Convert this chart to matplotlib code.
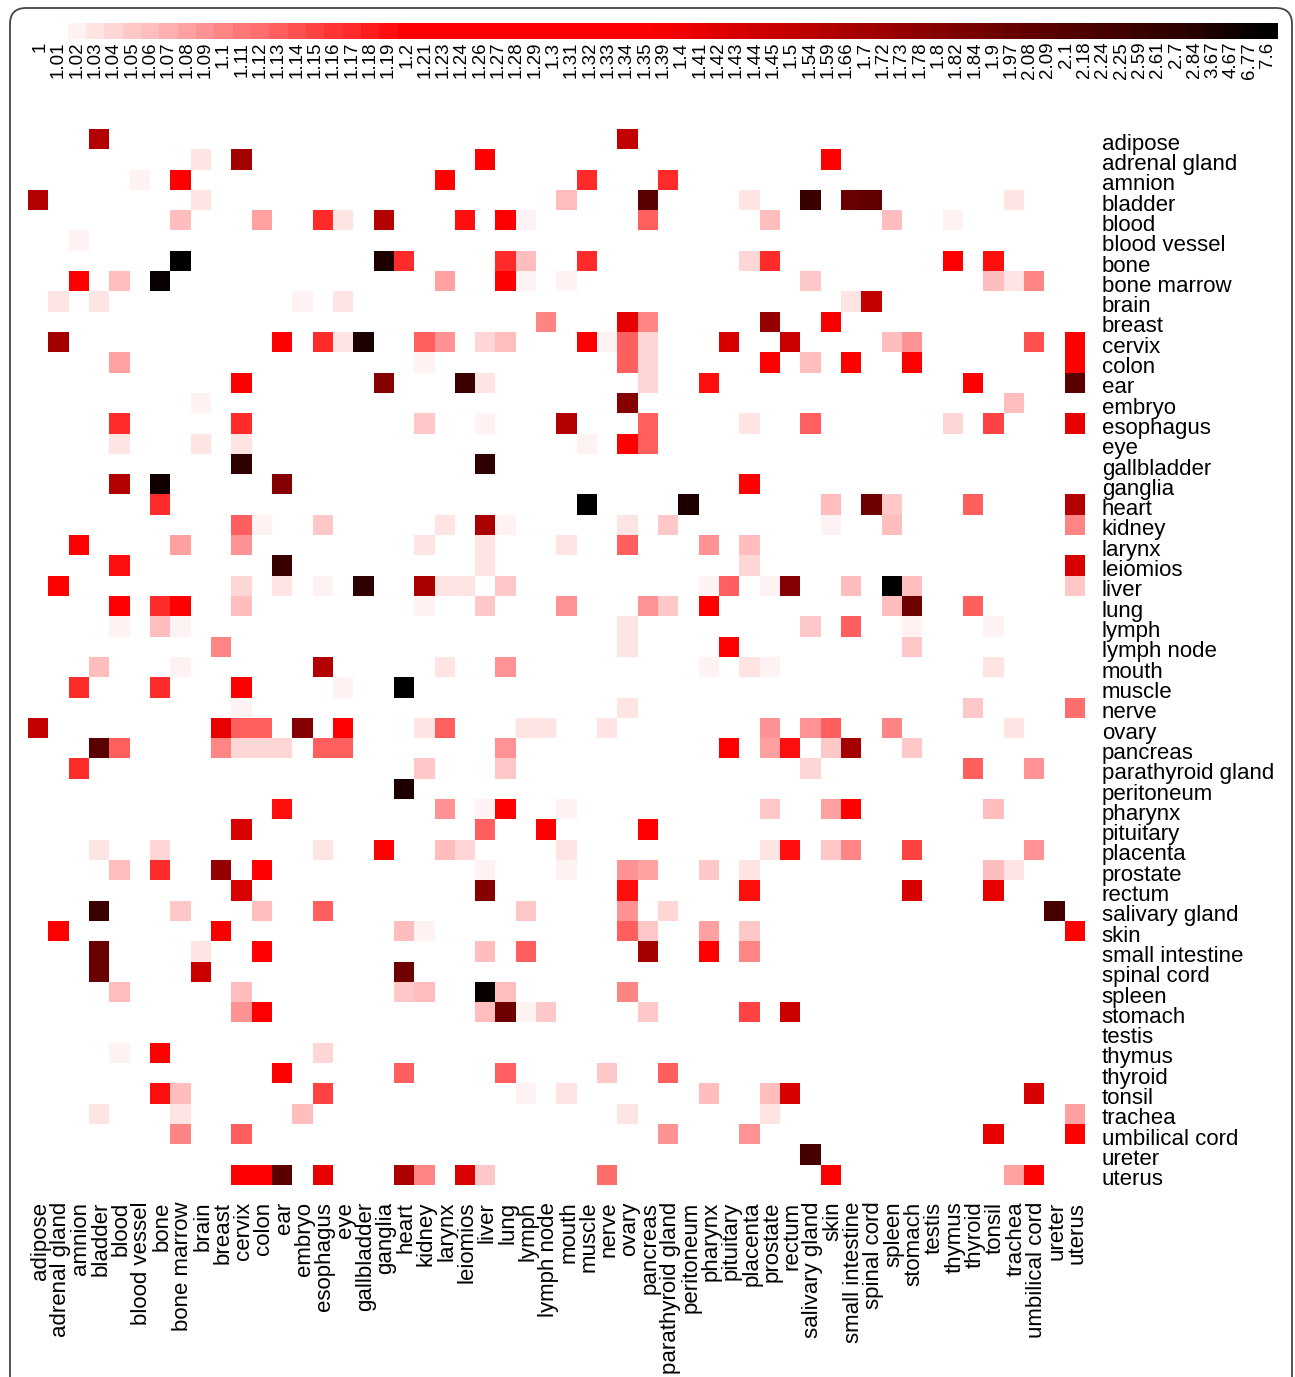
import numpy as np
import matplotlib
matplotlib.use("Agg")
import matplotlib.pyplot as plt
import matplotlib.transforms as mtransforms
from matplotlib.colors import LinearSegmentedColormap, ListedColormap, BoundaryNorm
from matplotlib.patches import FancyBboxPatch

plt.rcParams['font.family'] = ['Liberation Sans', 'DejaVu Sans']

tissues = ["adipose", "adrenal gland", "amnion", "bladder", "blood", "blood vessel",
           "bone", "bone marrow", "brain", "breast", "cervix", "colon", "ear", "embryo",
           "esophagus", "eye", "gallbladder", "ganglia", "heart", "kidney", "larynx",
           "leiomios", "liver", "lung", "lymph", "lymph node", "mouth", "muscle", "nerve",
           "ovary", "pancreas", "parathyroid gland", "peritoneum", "pharynx", "pituitary",
           "placenta", "prostate", "rectum", "salivary gland", "skin", "small intestine",
           "spinal cord", "spleen", "stomach", "testis", "thymus", "thyroid", "tonsil",
           "trachea", "umbilical cord", "ureter", "uterus"]

# the distinct values shown on the colour key
fold_levels = [1, 1.01, 1.02, 1.03, 1.04, 1.05, 1.06, 1.07, 1.08, 1.09, 1.1, 1.11, 1.12,
               1.13, 1.14, 1.15, 1.16, 1.17, 1.18, 1.19, 1.2, 1.21, 1.23, 1.24, 1.26, 1.27,
               1.28, 1.29, 1.3, 1.31, 1.32, 1.33, 1.34, 1.35, 1.39, 1.4, 1.41, 1.42, 1.43,
               1.44, 1.45, 1.5, 1.54, 1.59, 1.66, 1.7, 1.72, 1.73, 1.78, 1.8, 1.82, 1.84,
               1.9, 1.97, 2.08, 2.09, 2.1, 2.18, 2.24, 2.25, 2.59, 2.61, 2.7, 2.84, 3.67,
               4.67, 6.77, 7.6]

# (row tissue, column tissue, value) - only the coloured cells
cells = [
    ("adipose", "bladder", 1.59), ("adipose", "ovary", 1.5),
    ("adrenal gland", "brain", 1.03), ("adrenal gland", "cervix", 1.7), ("adrenal gland", "liver", 1.27),
    ("adrenal gland", "skin", 1.27),
    ("amnion", "blood vessel", 1.02), ("amnion", "bone marrow", 1.24), ("amnion", "larynx", 1.26),
    ("amnion", "muscle", 1.17), ("amnion", "parathyroid gland", 1.17),
    ("bladder", "adipose", 1.59), ("bladder", "brain", 1.03), ("bladder", "mouth", 1.06),
    ("bladder", "pancreas", 2.09), ("bladder", "placenta", 1.03), ("bladder", "salivary gland", 2.59),
    ("bladder", "small intestine", 1.97), ("bladder", "spinal cord", 2.08), ("bladder", "trachea", 1.03),
    ("blood", "bone marrow", 1.06), ("blood", "colon", 1.08), ("blood", "esophagus", 1.17),
    ("blood", "eye", 1.03), ("blood", "ganglia", 1.59), ("blood", "leiomios", 1.19), ("blood", "lung", 1.21),
    ("blood", "lymph", 1.02), ("blood", "pancreas", 1.13), ("blood", "prostate", 1.06),
    ("blood", "spleen", 1.06), ("blood", "thymus", 1.02),
    ("blood vessel", "amnion", 1.02),
    ("bone", "bone marrow", 7.6), ("bone", "ganglia", 3.67), ("bone", "heart", 1.17), ("bone", "lung", 1.17),
    ("bone", "lymph", 1.06), ("bone", "muscle", 1.17), ("bone", "placenta", 1.04), ("bone", "prostate", 1.17),
    ("bone", "thymus", 1.28), ("bone", "tonsil", 1.19),
    ("bone marrow", "amnion", 1.26), ("bone marrow", "blood", 1.06), ("bone marrow", "bone", 6.77),
    ("bone marrow", "larynx", 1.08), ("bone marrow", "lung", 1.23), ("bone marrow", "lymph", 1.02),
    ("bone marrow", "mouth", 1.02), ("bone marrow", "salivary gland", 1.05), ("bone marrow", "tonsil", 1.06),
    ("bone marrow", "trachea", 1.03), ("bone marrow", "umbilical cord", 1.1),
    ("brain", "adrenal gland", 1.03), ("brain", "bladder", 1.03), ("brain", "embryo", 1.02),
    ("brain", "eye", 1.03), ("brain", "small intestine", 1.03), ("brain", "spinal cord", 1.5),
    ("breast", "lymph node", 1.1), ("breast", "ovary", 1.41), ("breast", "pancreas", 1.1),
    ("breast", "prostate", 1.73), ("breast", "skin", 1.39),
    ("cervix", "adrenal gland", 1.7), ("cervix", "ear", 1.29), ("cervix", "esophagus", 1.17),
    ("cervix", "eye", 1.03), ("cervix", "gallbladder", 3.67), ("cervix", "kidney", 1.13),
    ("cervix", "larynx", 1.09), ("cervix", "liver", 1.04), ("cervix", "lung", 1.06), ("cervix", "muscle", 1.3),
    ("cervix", "nerve", 1.02), ("cervix", "ovary", 1.13), ("cervix", "pancreas", 1.04),
    ("cervix", "pituitary", 1.43), ("cervix", "rectum", 1.45), ("cervix", "spleen", 1.06),
    ("cervix", "stomach", 1.09), ("cervix", "umbilical cord", 1.14), ("cervix", "uterus", 1.31),
    ("colon", "blood", 1.08), ("colon", "kidney", 1.02), ("colon", "ovary", 1.13), ("colon", "pancreas", 1.04),
    ("colon", "prostate", 1.32), ("colon", "salivary gland", 1.06), ("colon", "small intestine", 1.33),
    ("colon", "stomach", 1.34), ("colon", "uterus", 1.31),
    ("ear", "cervix", 1.21), ("ear", "ganglia", 1.8), ("ear", "leiomios", 2.59), ("ear", "liver", 1.03),
    ("ear", "pancreas", 1.04), ("ear", "pharynx", 1.19), ("ear", "thyroid", 1.35), ("ear", "uterus", 2.09),
    ("embryo", "brain", 1.02), ("embryo", "ovary", 1.8), ("embryo", "trachea", 1.06),
    ("esophagus", "blood", 1.17), ("esophagus", "cervix", 1.17), ("esophagus", "kidney", 1.05),
    ("esophagus", "liver", 1.02), ("esophagus", "mouth", 1.59), ("esophagus", "pancreas", 1.13),
    ("esophagus", "placenta", 1.03), ("esophagus", "salivary gland", 1.13), ("esophagus", "thymus", 1.04),
    ("esophagus", "tonsil", 1.15), ("esophagus", "uterus", 1.41),
    ("eye", "blood", 1.03), ("eye", "brain", 1.03), ("eye", "cervix", 1.03), ("eye", "muscle", 1.02),
    ("eye", "ovary", 1.27), ("eye", "pancreas", 1.13),
    ("gallbladder", "cervix", 2.7), ("gallbladder", "liver", 2.7),
    ("ganglia", "blood", 1.59), ("ganglia", "bone", 4.67), ("ganglia", "ear", 1.8), ("ganglia", "placenta", 1.26),
    ("heart", "bone", 1.17), ("heart", "muscle", 7.6), ("heart", "peritoneum", 3.67), ("heart", "skin", 1.06),
    ("heart", "spinal cord", 1.9), ("heart", "spleen", 1.05), ("heart", "thyroid", 1.13), ("heart", "uterus", 1.59),
    ("kidney", "cervix", 1.13), ("kidney", "colon", 1.02), ("kidney", "esophagus", 1.05),
    ("kidney", "larynx", 1.03), ("kidney", "liver", 1.66), ("kidney", "lung", 1.02), ("kidney", "ovary", 1.03),
    ("kidney", "parathyroid gland", 1.05), ("kidney", "skin", 1.02), ("kidney", "spleen", 1.06),
    ("kidney", "uterus", 1.1),
    ("larynx", "amnion", 1.28), ("larynx", "bone marrow", 1.08), ("larynx", "cervix", 1.09),
    ("larynx", "kidney", 1.03), ("larynx", "liver", 1.03), ("larynx", "mouth", 1.03), ("larynx", "ovary", 1.13),
    ("larynx", "pharynx", 1.09), ("larynx", "placenta", 1.06),
    ("leiomios", "blood", 1.19), ("leiomios", "ear", 2.59), ("leiomios", "liver", 1.03),
    ("leiomios", "placenta", 1.04), ("leiomios", "uterus", 1.43),
    ("liver", "adrenal gland", 1.24), ("liver", "cervix", 1.04), ("liver", "ear", 1.03),
    ("liver", "esophagus", 1.02), ("liver", "gallbladder", 2.7), ("liver", "kidney", 1.66),
    ("liver", "larynx", 1.03), ("liver", "leiomios", 1.03), ("liver", "lung", 1.05), ("liver", "pharynx", 1.02),
    ("liver", "pituitary", 1.13), ("liver", "prostate", 1.02), ("liver", "rectum", 1.8),
    ("liver", "small intestine", 1.06), ("liver", "spleen", 7.6), ("liver", "stomach", 1.06),
    ("liver", "uterus", 1.05),
    ("lung", "blood", 1.27), ("lung", "bone", 1.17), ("lung", "bone marrow", 1.27), ("lung", "cervix", 1.06),
    ("lung", "kidney", 1.02), ("lung", "liver", 1.05), ("lung", "mouth", 1.09), ("lung", "pancreas", 1.09),
    ("lung", "parathyroid gland", 1.05), ("lung", "pharynx", 1.28), ("lung", "spleen", 1.06),
    ("lung", "stomach", 1.9), ("lung", "thyroid", 1.13),
    ("lymph", "blood", 1.02), ("lymph", "bone", 1.06), ("lymph", "bone marrow", 1.02), ("lymph", "ovary", 1.03),
    ("lymph", "salivary gland", 1.05), ("lymph", "small intestine", 1.13), ("lymph", "stomach", 1.02),
    ("lymph", "tonsil", 1.02),
    ("lymph node", "breast", 1.1), ("lymph node", "ovary", 1.03), ("lymph node", "pituitary", 1.29),
    ("lymph node", "stomach", 1.05),
    ("mouth", "bladder", 1.06), ("mouth", "bone marrow", 1.02), ("mouth", "esophagus", 1.59),
    ("mouth", "larynx", 1.03), ("mouth", "lung", 1.09), ("mouth", "pharynx", 1.02), ("mouth", "placenta", 1.03),
    ("mouth", "prostate", 1.02), ("mouth", "tonsil", 1.03),
    ("muscle", "amnion", 1.17), ("muscle", "bone", 1.17), ("muscle", "cervix", 1.3), ("muscle", "eye", 1.02),
    ("muscle", "heart", 7.6),
    ("nerve", "cervix", 1.02), ("nerve", "ovary", 1.03), ("nerve", "thyroid", 1.05), ("nerve", "uterus", 1.12),
    ("ovary", "adipose", 1.5), ("ovary", "breast", 1.41), ("ovary", "cervix", 1.13), ("ovary", "colon", 1.13),
    ("ovary", "embryo", 1.8), ("ovary", "eye", 1.32), ("ovary", "kidney", 1.03), ("ovary", "larynx", 1.13),
    ("ovary", "lymph", 1.03), ("ovary", "lymph node", 1.03), ("ovary", "nerve", 1.03),
    ("ovary", "prostate", 1.09), ("ovary", "salivary gland", 1.09), ("ovary", "skin", 1.13),
    ("ovary", "spleen", 1.1), ("ovary", "trachea", 1.03),
    ("pancreas", "bladder", 2.09), ("pancreas", "blood", 1.13), ("pancreas", "breast", 1.1),
    ("pancreas", "cervix", 1.04), ("pancreas", "colon", 1.04), ("pancreas", "ear", 1.04),
    ("pancreas", "esophagus", 1.13), ("pancreas", "eye", 1.13), ("pancreas", "lung", 1.09),
    ("pancreas", "pituitary", 1.33), ("pancreas", "prostate", 1.08), ("pancreas", "rectum", 1.19),
    ("pancreas", "skin", 1.05), ("pancreas", "small intestine", 1.7), ("pancreas", "stomach", 1.05),
    ("parathyroid gland", "amnion", 1.17), ("parathyroid gland", "kidney", 1.05),
    ("parathyroid gland", "lung", 1.05), ("parathyroid gland", "salivary gland", 1.04),
    ("parathyroid gland", "thyroid", 1.13), ("parathyroid gland", "umbilical cord", 1.09),
    ("peritoneum", "heart", 3.67),
    ("pharynx", "ear", 1.19), ("pharynx", "larynx", 1.09), ("pharynx", "liver", 1.02), ("pharynx", "lung", 1.34),
    ("pharynx", "mouth", 1.02), ("pharynx", "prostate", 1.05), ("pharynx", "skin", 1.08),
    ("pharynx", "small intestine", 1.35), ("pharynx", "tonsil", 1.06),
    ("pituitary", "cervix", 1.43), ("pituitary", "liver", 1.13), ("pituitary", "lymph node", 1.29),
    ("pituitary", "pancreas", 1.35),
    ("placenta", "bladder", 1.03), ("placenta", "bone", 1.04), ("placenta", "esophagus", 1.03),
    ("placenta", "ganglia", 1.26), ("placenta", "larynx", 1.06), ("placenta", "leiomios", 1.04),
    ("placenta", "mouth", 1.03), ("placenta", "prostate", 1.03), ("placenta", "rectum", 1.19),
    ("placenta", "skin", 1.05), ("placenta", "small intestine", 1.1), ("placenta", "stomach", 1.15),
    ("placenta", "umbilical cord", 1.09),
    ("prostate", "blood", 1.06), ("prostate", "bone", 1.17), ("prostate", "breast", 1.73),
    ("prostate", "colon", 1.32), ("prostate", "liver", 1.02), ("prostate", "mouth", 1.02),
    ("prostate", "ovary", 1.09), ("prostate", "pancreas", 1.08), ("prostate", "pharynx", 1.05),
    ("prostate", "placenta", 1.03), ("prostate", "tonsil", 1.06), ("prostate", "trachea", 1.03),
    ("rectum", "cervix", 1.43), ("rectum", "liver", 1.8), ("rectum", "ovary", 1.19), ("rectum", "placenta", 1.19),
    ("rectum", "stomach", 1.43), ("rectum", "tonsil", 1.41),
    ("salivary gland", "bladder", 2.59), ("salivary gland", "bone marrow", 1.05),
    ("salivary gland", "colon", 1.06), ("salivary gland", "esophagus", 1.13), ("salivary gland", "lymph", 1.05),
    ("salivary gland", "ovary", 1.09), ("salivary gland", "parathyroid gland", 1.04),
    ("salivary gland", "ureter", 2.24),
    ("skin", "adrenal gland", 1.3), ("skin", "breast", 1.39), ("skin", "heart", 1.06), ("skin", "kidney", 1.02),
    ("skin", "ovary", 1.13), ("skin", "pancreas", 1.05), ("skin", "pharynx", 1.08), ("skin", "placenta", 1.05),
    ("skin", "uterus", 1.27),
    ("small intestine", "bladder", 1.97), ("small intestine", "brain", 1.03), ("small intestine", "colon", 1.28),
    ("small intestine", "liver", 1.06), ("small intestine", "lymph", 1.13), ("small intestine", "pancreas", 1.7),
    ("small intestine", "pharynx", 1.31), ("small intestine", "placenta", 1.1),
    ("spinal cord", "bladder", 1.97), ("spinal cord", "brain", 1.45), ("spinal cord", "heart", 1.9),
    ("spleen", "blood", 1.06), ("spleen", "cervix", 1.06), ("spleen", "heart", 1.05), ("spleen", "kidney", 1.06),
    ("spleen", "liver", 6.77), ("spleen", "lung", 1.06), ("spleen", "ovary", 1.1),
    ("stomach", "cervix", 1.09), ("stomach", "colon", 1.27), ("stomach", "liver", 1.06), ("stomach", "lung", 1.9),
    ("stomach", "lymph", 1.02), ("stomach", "lymph node", 1.05), ("stomach", "pancreas", 1.05),
    ("stomach", "placenta", 1.15), ("stomach", "rectum", 1.45),
    ("thymus", "blood", 1.02), ("thymus", "bone", 1.26), ("thymus", "esophagus", 1.04),
    ("thyroid", "ear", 1.26), ("thyroid", "heart", 1.13), ("thyroid", "lung", 1.13), ("thyroid", "nerve", 1.05),
    ("thyroid", "parathyroid gland", 1.13),
    ("tonsil", "bone", 1.19), ("tonsil", "bone marrow", 1.06), ("tonsil", "esophagus", 1.15),
    ("tonsil", "lymph", 1.02), ("tonsil", "mouth", 1.03), ("tonsil", "pharynx", 1.06), ("tonsil", "prostate", 1.06),
    ("tonsil", "rectum", 1.43), ("tonsil", "umbilical cord", 1.43),
    ("trachea", "bladder", 1.03), ("trachea", "bone marrow", 1.03), ("trachea", "embryo", 1.06),
    ("trachea", "ovary", 1.03), ("trachea", "prostate", 1.03), ("trachea", "uterus", 1.08),
    ("umbilical cord", "bone marrow", 1.1), ("umbilical cord", "cervix", 1.13),
    ("umbilical cord", "parathyroid gland", 1.09), ("umbilical cord", "placenta", 1.09),
    ("umbilical cord", "tonsil", 1.41), ("umbilical cord", "uterus", 1.29),
    ("ureter", "salivary gland", 2.24),
    ("uterus", "cervix", 1.24), ("uterus", "colon", 1.24), ("uterus", "ear", 2.09), ("uterus", "esophagus", 1.41),
    ("uterus", "heart", 1.66), ("uterus", "kidney", 1.1), ("uterus", "leiomios", 1.43), ("uterus", "liver", 1.05),
    ("uterus", "nerve", 1.12), ("uterus", "skin", 1.26), ("uterus", "trachea", 1.08),
    ("uterus", "umbilical cord", 1.29),
]

n = len(tissues)
nlev = len(fold_levels)
where = {t: i for i, t in enumerate(tissues)}

# matrix of colour-key ranks, NaN = no cell
mat = np.full((n, n), np.nan)
for r, c, v in cells:
    mat[where[r], where[c]] = fold_levels.index(v)

# white -> red -> dark red -> black, spread over the ranks of the key
stops = [(0, '#ffffff'), (1, '#ffffff'), (2, '#fff0f0'), (20, '#ff0000'), (33, '#ff0000'),
         (45, '#a50000'), (52, '#700000'), (58, '#480000'), (63, '#280000'), (67, '#000000')]
ramp = LinearSegmentedColormap.from_list('fold', [(k / (nlev - 1), col) for k, col in stops])
cmap = ListedColormap(ramp(np.linspace(0, 1, nlev)))
norm = BoundaryNorm(np.arange(nlev + 1) - 0.5, nlev)

W, H = 1295, 1377
fig = plt.figure(figsize=(W / 100, H / 100), dpi=100)

ax = fig.add_axes([28 / W, 1 - 1185 / H, 1057 / W, 1056 / H])
ax.imshow(mat, cmap=cmap, norm=norm, aspect='auto', interpolation='nearest')
ax.set_xticks(range(n))
ax.set_xticklabels(tissues, rotation=90, fontsize=16)
ax.set_yticks(range(n))
ax.set_yticklabels(tissues, fontsize=16)
ax.yaxis.tick_right()
ax.tick_params(length=0)
ax.tick_params(axis='x', pad=12)
ax.tick_params(axis='y', pad=12)
for s in ax.spines.values():
    s.set_visible(False)

# row names sit a touch low in the original
shift_down = mtransforms.ScaledTranslation(0, -2.5 / 100, fig.dpi_scale_trans)
for lab in ax.get_yticklabels():
    lab.set_transform(lab.get_transform() + shift_down)
shift_right = mtransforms.ScaledTranslation(2 / 100, 0, fig.dpi_scale_trans)
for lab in ax.get_xticklabels():
    lab.set_transform(lab.get_transform() + shift_right)

# colour key along the top
cax = fig.add_axes([31 / W, 1 - 39 / H, 1246 / W, 16 / H])
cax.imshow(np.arange(nlev)[None, :], cmap=cmap, norm=norm, aspect='auto', interpolation='nearest')
cax.set_yticks([])
cax.set_xticks(range(nlev))
cax.set_xticklabels([f"{v:g}" for v in fold_levels], rotation=90, fontsize=13.5)
cax.tick_params(length=0, pad=2)
for s in cax.spines.values():
    s.set_visible(False)

# rounded frame round the panel
frame = FancyBboxPatch((0.10, -0.3), 12.82, 13.99, boxstyle='round,pad=0,rounding_size=0.16',
                       transform=fig.dpi_scale_trans, fill=False, edgecolor='#444444', lw=1.3)
fig.add_artist(frame)

fig.savefig('out.png', dpi=100)
